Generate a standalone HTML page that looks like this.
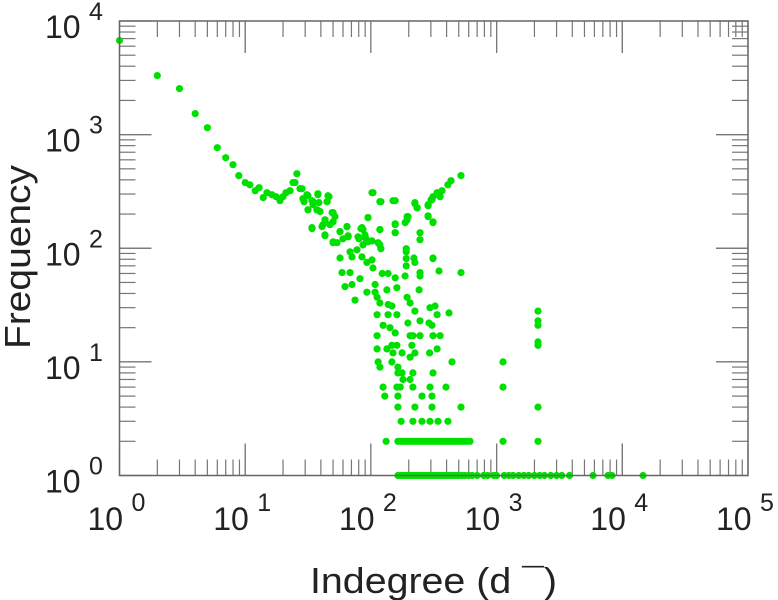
<!DOCTYPE html>
<html><head><meta charset="utf-8"><style>
html,body{margin:0;padding:0;background:#fff;}
svg{display:block;font-family:"Liberation Sans",Arial,sans-serif;}
</style></head><body>
<svg id="chart" width="778" height="600" viewBox="0 0 778 600" xmlns="http://www.w3.org/2000/svg">
<g id="ticks"></g>
<g id="points"></g>
<rect x="119.5" y="21" width="628.5" height="454.5" fill="none" stroke="#666" stroke-width="1.5"/>
<g id="labels"></g>
<text x="310" y="593" font-size="36" fill="#222" textLength="247" lengthAdjust="spacingAndGlyphs">Indegree (d  ¯)</text>
<text transform="translate(30,349) rotate(-90)" font-size="36" fill="#222" textLength="184" lengthAdjust="spacingAndGlyphs">Frequency</text>
</svg>
<script>
const xDecades = [0,1,2,3,4,5];
const yDecades = [0,1,2,3,4];
const degrees = [1,2,3,4,5,6,7,8,
8.9,10,10.9,12,12.9,13.9,14.9,16.3,17.6,18.9,20,21.1,22.7,24,25.8,24.9,27.3,28.8,31,29.4,31.6,34,34.6,37.9,38.6,37.2,39.4,46.4,44.8,50,51.8,43.1,47.3,40.8,34,43.1,50,53.7,56.8,64.6,65.8,60,83.4,86.5,94.8,80.4,91.4,104,120,118,102,114,120,156,156,156,187,194,197,224,233,246,246,285,301,312,336,355,368,410,434,521,285,312,191,220,312,
28.3,31.6,34.6,37.9,45.6,44.8,31.6,37.2,49.1,43.1,50,34,41.6,64.6,85,102,118,150,224,233,94.8,118,156,194,156,285,306,285,312,43.1,56.8,50,65.8,78.9,89.7,94.8,118,86.5,68.2,77.5,85,56.8,70.7,102,104,93,58.9,68.2,81.9,123,137,62.2,70.7,74.7,93,108,108,134,156,161,191,191,191,187,224,246,246,242,312,348,521,194,205,224,295,324,336,418,112,118,137,147,112,137,161,125,142,197,246,290,306,112,156,205,216,246,312,355,112,134,147,161,150,177,212,224,205,293,336,114,118,147,164,164,177,180,205,216,312,442,1125,1125,125,161,171,216,295,396,129,164,255,306,164,224,306,521,174,216,255,295,342,410,
2135,2135,2135,2135,2135,2135,2135,
132,164,171,177,184,191,197,205,212,220,228,236,246,255,265,275,285,295,306,318,330,342,355,368,382,396,410,425,440,456,473,490,510,530,555,580,614,1125,
164,171,178,185,193,200,208,217,225,235,245,255,265,276,287,300,312,325,340,355,370,385,400,420,440,460,480,500,530,560,600,640,700,790,850,950,1000,1150,1250,1350,1500,1650,1800,2000,2200,2400,2700,3000,3300,3800,5850,7700,8280,14600];
const freqs = [6730,3310,2540,1530,1150,767,627,544,
436,378,362,321,341,279,308,296,284,262,284,308,321,378,453,378,334,273,296,257,218,262,242,302,252,218,210,284,257,206,190,178,161,155,149,131,112,112,140,155,126,121,149,146,186,121,121,308,257,146,116,112,99,262,161,137,168,178,190,252,227,137,119,237,267,284,308,284,321,362,393,436,190,171,93,82,82,
334,290,257,296,290,257,218,218,206,178,171,152,161,155,152,308,257,262,247,227,186,146,164,190,137,242,267,193,168,129,140,114,129,126,131,114,107,107,93,97,84,82,84,79,67,75,61,61,54,60,60,46,48,35,41,48,41,43,55,45,99,81,70,57,75,61,57,43,81,63,61,37,33,28,30,31,26,27,37,33,32,31,26,26,26,21,20,22,23,22,21,17,18,17,17,17,17,17,13,13,14,14,12,12,14,12,11,12,13,10,9,10,9,8,8,7,7,8,8,10,10,6,6,6,6,6,6,6,5,5,5,5,4,4,4,4,3,3,3,3,3,3,
28,23,21,15,14,4,2,
2,2,2,2,2,2,2,2,2,2,2,2,2,2,2,2,2,2,2,2,2,2,2,2,2,2,2,2,2,2,2,2,2,2,2,2,2,2,
1,1,1,1,1,1,1,1,1,1,1,1,1,1,1,1,1,1,1,1,1,1,1,1,1,1,1,1,1,1,1,1,1,1,1,1,1,1,1,1,1,1,1,1,1,1,1,1,1,1,1,1,1,1];

const X0=119.5, X1=748, Y0=475.5, Y1=21;
const NS="http://www.w3.org/2000/svg";
function xs(v){return X0+Math.log10(v)/5*(X1-X0);}
function ys(v){return Y0-Math.log10(v)/4*(Y0-Y1);}
function mk(tag,attrs,parent){const e=document.createElementNS(NS,tag);for(const k in attrs)e.setAttribute(k,attrs[k]);parent.appendChild(e);return e;}

const tg=document.getElementById('ticks');
function tick(x1,y1,x2,y2){const l=mk('line',{x1:x1,y1:y1,x2:x2,y2:y2,stroke:'#777','stroke-width':1.2},tg);

}
for(let d=0; d<5; d++){
  for(let m=1;m<=10;m++){
    const v=m*Math.pow(10,d); const x=xs(v); const len=(m===1||m===10)?32:16;
    tick(x,Y0,x,Y0-len); tick(x,Y1,x,Y1+len);
  }
}
for(let d=0; d<4; d++){
  for(let m=1;m<=10;m++){
    const v=m*Math.pow(10,d); const y=ys(v); const len=(m===1||m===10)?32:16;
    tick(X0,y,X0+len,y); tick(X1,y,X1-len,y);
  }
}

const pg=document.getElementById('points');
for(let i=0;i<degrees.length;i++){
  const c=mk('circle',{cx:xs(degrees[i]).toFixed(1),cy:ys(freqs[i]).toFixed(1),r:3.6,fill:'#00e000'},pg);
  
  
}

const lg=document.getElementById('labels');
xDecades.forEach(d=>{
  const x=xs(Math.pow(10,d));
  const t=mk('text',{x:x-32,y:530,'font-size':32,fill:'#222'},lg); t.textContent='10';
  
  
  const e=mk('text',{x:x+12,y:511,'font-size':25,fill:'#222'},lg); e.textContent=String(d);
  
  
});
yDecades.forEach(d=>{
  const y=ys(Math.pow(10,d));
  const t=mk('text',{x:45,y:y+17,'font-size':32,fill:'#222'},lg); t.textContent='10';
  
  
  const e=mk('text',{x:89,y:y-1,'font-size':25,fill:'#222'},lg); e.textContent=String(d);
  
  
});
</script>
</body></html>
